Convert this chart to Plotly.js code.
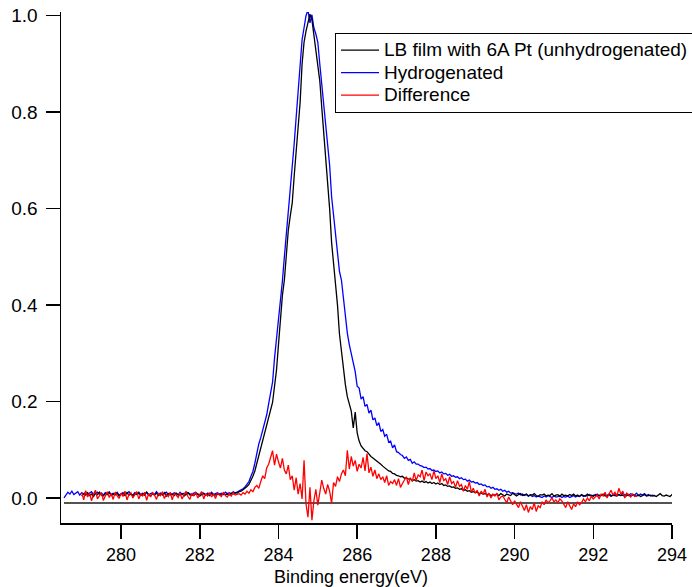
<!DOCTYPE html>
<html>
<head>
<meta charset="utf-8">
<script src="https://cdn.plot.ly/plotly-3.0.1.min.js"></script>
<style>html,body{margin:0;padding:0;background:#fff;}#chart{width:692px;height:587px;}</style>
</head>
<body>
<div id="chart"></div>
<script>
// Series names
const seriesNames = ["LB film with 6A Pt (unhydrogenated)", "Hydrogenated", "Difference"];
const xAxisTitle = "Binding energy(eV)";

// Energy grids (eV): start and step of each sampled series
const unhydStart = 279.0;
const hydStart = 278.55;
const diffStart = 279.0;
const energyStep = 0.05;

// Unhydrogenated intensity (normalised), 279.00 .. 294.05 eV
const unhydValues = [
0.004,0.009,0.006,0.011,0.005,0.008,0.003,0.010,0.007,0.012,
0.006,0.004,0.009,0.007,0.011,0.005,0.008,0.006,0.010,0.004,
0.007,0.009,0.005,0.011,0.006,0.008,0.004,0.009,0.007,0.010,
0.005,0.008,0.006,0.012,0.007,0.004,0.009,0.006,0.010,0.005,
0.008,0.007,0.011,0.004,0.009,0.006,0.008,0.005,0.010,0.007,
0.006,0.009,0.004,0.008,0.011,0.006,0.007,0.005,0.009,0.008,
0.004,0.007,0.010,0.006,0.008,0.005,0.009,0.007,0.006,0.008,
0.007,
0.006,0.009,0.007,0.008,0.006,0.010,0.008,0.011,0.010,0.013,
0.014,0.017,0.020,0.024,0.028,0.036,0.045,0.056,0.072,0.088,
0.103,0.115,0.130,0.148,0.162,0.178,0.198,0.232,0.265,0.318,
0.375,0.420,0.452,0.510,0.555,0.585,0.612,0.668,0.720,0.770,
0.820,0.900,0.945,0.968,0.985,1.003,0.992,0.962,0.935,0.895,
0.865,0.810,0.760,0.715,0.655,0.600,0.530,0.485,0.448,0.400,
0.340,0.300,0.265,0.235,0.210,0.195,0.180,0.145,0.178,0.135,
0.118,0.108,0.102,0.098,0.096,0.090,0.086,0.083,0.080,0.076,
0.073,0.070,0.066,0.062,0.060,0.056,0.055,0.051,0.050,0.047,
0.046,0.044,0.045,0.041,0.042,0.039,0.040,0.036,0.038,0.035,
0.036,0.033,0.035,0.032,0.034,0.031,0.033,0.030,0.032,0.029,
0.031,0.028,0.030,0.026,0.027,0.024,0.025,0.022,0.023,0.020,
0.021,0.018,0.019,0.016,0.017,0.014,0.015,0.012,0.013,0.011,
0.012,0.009,0.010,0.008,0.009,0.007,0.008,0.005,0.007,0.006,
0.008,0.005,0.009,0.006,0.004,0.008,0.007,0.005,0.010,0.006,
0.004,0.007,0.009,0.005,0.006,0.008,0.004,0.007,0.006,0.009,
0.005,0.003,0.007,0.006,0.008,0.004,0.006,0.005,0.009,0.004,
0.006,0.007,0.003,0.008,0.005,0.006,0.004,0.007,0.005,0.008,
0.004,0.006,0.003,0.007,0.005,0.004,0.008,0.005,0.006,0.003,
0.007,0.004,0.006,0.005,0.008,0.004,0.005,0.007,0.003,0.006,
0.005,0.004,0.007,0.005,0.006,0.003,0.005,0.007,0.004,0.006,
0.005,0.004,0.006,0.003,0.005,0.007,0.004,0.005,0.006,0.004,
0.005,0.003,0.006,0.009,0.005,0.004,0.006,0.005,0.003,0.007,
0.004
];

// Hydrogenated intensity (normalised), 278.55 .. 293.55 eV
const hydValues = [
0.000,0.006,0.012,0.008,0.014,0.007,0.010,0.013,0.006,0.011,
0.008,0.012,0.007,0.010,0.013,0.006,0.009,0.012,0.008,0.010,
0.006,0.011,0.009,0.013,0.007,0.010,0.008,0.012,0.006,0.009,
0.011,0.007,0.010,0.013,0.008,0.006,0.011,0.009,0.012,0.007,
0.010,0.008,0.012,0.006,0.009,0.011,0.007,0.013,0.008,0.010,
0.006,0.009,0.012,0.008,0.010,0.007,0.011,0.009,0.006,0.012,
0.008,0.010,0.007,0.011,0.009,0.006,0.010,0.012,0.008,0.007,
0.011,0.009,0.006,0.010,0.008,0.012,0.007,0.009,0.011,0.008,
0.010,0.007,0.012,0.009,0.011,0.008,0.013,0.010,0.012,0.014,
0.016,0.019,0.023,0.028,0.034,0.045,0.055,0.072,0.095,0.112,
0.125,0.140,0.158,0.172,0.195,0.215,0.240,0.290,0.330,0.370,
0.400,0.450,0.500,0.545,0.590,0.630,0.685,0.735,0.790,0.840,
0.895,0.950,0.975,1.000,1.012,0.985,1.002,0.975,0.962,0.945,
0.900,0.860,0.825,0.780,0.735,0.690,0.625,0.585,0.540,0.505,
0.470,0.452,0.412,0.384,0.342,0.318,0.300,0.275,0.262,0.232,
0.228,0.205,0.210,0.190,0.194,0.176,0.182,0.162,0.166,0.150,
0.156,0.138,0.142,0.128,0.132,0.116,0.118,0.104,0.110,0.096,
0.094,0.090,0.088,0.082,0.085,0.078,0.080,0.072,0.075,0.070,
0.070,0.067,0.066,0.063,0.064,0.060,0.061,0.057,0.058,0.055,
0.056,0.052,0.054,0.050,0.051,0.047,0.049,0.045,0.046,0.043,
0.044,0.040,0.042,0.038,0.039,0.035,0.037,0.033,0.034,0.031,
0.032,0.028,0.029,0.026,0.027,0.023,0.024,0.020,0.022,0.018,
0.019,0.016,0.018,0.014,0.016,0.012,0.014,0.010,0.011,0.009,
0.008,0.010,0.006,0.008,0.005,0.007,0.004,0.006,0.003,0.005,
0.002,0.004,0.003,0.001,0.004,0.002,0.005,0.003,0.001,0.004,
0.002,0.003,0.005,0.001,0.003,0.002,0.004,0.001,0.003,0.005,
0.002,0.004,0.003,0.006,0.003,0.005,0.004,0.007,0.004,0.006,
0.005,0.008,0.004,0.006,0.005,0.007,0.004,0.008,0.006,0.005,
0.009,0.006,0.007,0.005,0.010,0.006,0.008,0.005,0.009,0.007,
0.006,0.010,0.005,0.008,0.006,0.009,0.005,0.007,0.004,0.006,
0.005
];

// Difference, 279.00 .. 293.10 eV
const diffValues = [
0.012,-0.004,0.015,0.002,0.010,-0.006,0.008,0.016,-0.002,0.006,
0.011,-0.005,0.004,0.013,0.001,0.009,-0.003,0.012,0.005,-0.001,
0.010,0.003,0.014,-0.004,0.007,0.011,0.000,0.006,0.013,-0.002,
0.008,0.004,0.012,-0.005,0.009,0.002,0.011,0.006,-0.003,0.010,
0.005,0.013,-0.001,0.007,0.003,0.012,-0.004,0.009,0.006,0.001,
0.011,-0.002,0.008,0.014,0.003,-0.003,0.010,0.005,0.012,0.000,
0.007,0.013,-0.002,0.009,0.004,0.011,0.002,0.008,-0.001,0.010,
0.006,0.003,0.012,0.005,0.002,0.009,0.004,0.011,0.006,0.008,
0.009,0.006,0.011,0.008,0.014,0.010,0.017,0.013,0.022,0.026,
0.020,0.034,0.046,0.040,0.062,0.070,0.085,0.098,0.068,0.091,
0.075,0.062,0.082,0.058,0.050,0.068,0.038,0.046,0.016,0.042,
0.008,0.030,-0.002,0.078,-0.012,-0.040,0.022,-0.046,-0.006,0.018,
-0.015,0.012,0.037,0.020,0.008,0.028,0.014,-0.011,0.032,0.024,
0.044,0.034,0.050,0.058,0.046,0.099,0.060,0.086,0.066,0.078,
0.055,0.070,0.062,0.084,0.056,0.092,0.052,0.064,0.045,0.058,
0.040,0.050,0.038,0.044,0.032,0.046,0.026,0.034,0.030,0.038,
0.026,0.040,0.022,0.030,0.038,0.044,0.028,0.042,0.034,0.052,
0.036,0.048,0.044,0.058,0.036,0.054,0.046,0.050,0.038,0.056,
0.040,0.046,0.032,0.050,0.036,0.040,0.028,0.044,0.030,0.034,
0.022,0.036,0.024,0.028,0.014,0.026,0.018,0.034,0.012,0.020,
0.010,0.016,0.004,0.014,0.008,0.018,0.002,0.010,0.000,0.008,
0.004,0.010,-0.004,0.002,0.004,-0.002,-0.010,0.002,-0.008,-0.014,
-0.006,
-0.012,-0.020,-0.008,-0.016,-0.026,-0.014,-0.030,-0.018,-0.024,-0.010,
-0.028,-0.016,-0.020,-0.008,-0.014,-0.004,-0.010,-0.006,0.000,-0.008,
-0.004,-0.010,-0.002,-0.006,-0.012,-0.020,-0.008,-0.016,-0.024,-0.012,
-0.018,-0.008,-0.014,-0.010,-0.002,-0.008,0.000,-0.006,0.004,-0.002,
0.002,0.006,-0.002,0.008,0.004,0.012,0.000,0.010,0.016,0.006,
0.012,0.004,0.020,0.008,0.014,0.000,0.010,0.006,0.002,0.008,
0.003,0.005
];

// Reference baseline drawn under the spectra
const baselineX = [278.55, 294.15];
const baselineY = [-0.0104, -0.0104];

// Axis ticks
const xTicks = [280, 282, 284, 286, 288, 290, 292, 294];
const yTicks = [0.0, 0.2, 0.4, 0.6, 0.8, 1.0];
const yTickLabels = ["0.0", "0.2", "0.4", "0.6", "0.8", "1.0"];

const FONT = "Arial, 'Liberation Sans', Helvetica, sans-serif";
const FS = 19;
const legendName = (s) => '<span style="font-size:19px">' + s + '</span>';

const traces = [
  {x: baselineX, y: baselineY, type: "scatter", mode: "lines",
   line: {color: "#1a1a1a", width: 1.4}, showlegend: false, hoverinfo: "skip"},
  {y: hydValues, x0: hydStart, dx: energyStep, type: "scatter", mode: "lines",
   name: legendName(seriesNames[1]), legendrank: 2, line: {color: "#0000ff", width: 1.3}},
  {y: unhydValues, x0: unhydStart, dx: energyStep, type: "scatter", mode: "lines",
   name: legendName(seriesNames[0]), legendrank: 1, line: {color: "#000000", width: 1.3}},
  {y: diffValues, x0: diffStart, dx: energyStep, type: "scatter", mode: "lines",
   name: legendName(seriesNames[2]), legendrank: 3, line: {color: "#ff0000", width: 1.3}}
];

const layout = {
  width: 692, height: 587,
  margin: {l: 61, r: 20, t: 12, b: 64, autoexpand: false},
  paper_bgcolor: "#ffffff", plot_bgcolor: "#ffffff",
  font: {family: FONT, size: FS, color: "#000000"},
  showlegend: true,
  legend: {
    x: 0.4485, y: 0.959, xanchor: "left", yanchor: "top",
    bgcolor: "#ffffff", bordercolor: "#000000", borderwidth: 1,
    font: {family: FONT, size: 15, color: "#000000"},
    itemwidth: 38, tracegroupgap: 0
  },
  xaxis: {
    range: [278.474, 294.0], tickvals: xTicks, ticktext: xTicks.map(String),
    showgrid: false, zeroline: false, showline: true, linecolor: "#000000", linewidth: 1.5,
    ticks: "outside", ticklen: 14, tickwidth: 1.5, tickcolor: "#000000",
    tickfont: {family: FONT, size: 18, color: "#000000"},
    ticklabelstandoff: 1,
    title: {text: ""},
    automargin: false
  },
  yaxis: {
    range: [-0.0519, 1.0077], tickvals: yTicks, ticktext: yTickLabels,
    showgrid: false, zeroline: false, showline: true, linecolor: "#000000", linewidth: 1.5,
    ticks: "outside", ticklen: 14, tickwidth: 1.5, tickcolor: "#000000",
    tickfont: {family: FONT, size: FS, color: "#000000"},
    ticklabelstandoff: 4,
    automargin: false
  },
  annotations: [{
    text: xAxisTitle, xref: "paper", yref: "paper", x: 0.4746, y: -0.1047,
    xanchor: "center", yanchor: "middle", showarrow: false,
    font: {family: FONT, size: 18, color: "#000000"}
  }]
};

Plotly.newPlot("chart", traces, layout, {displayModeBar: false, staticPlot: true});
</script>
</body>
</html>
